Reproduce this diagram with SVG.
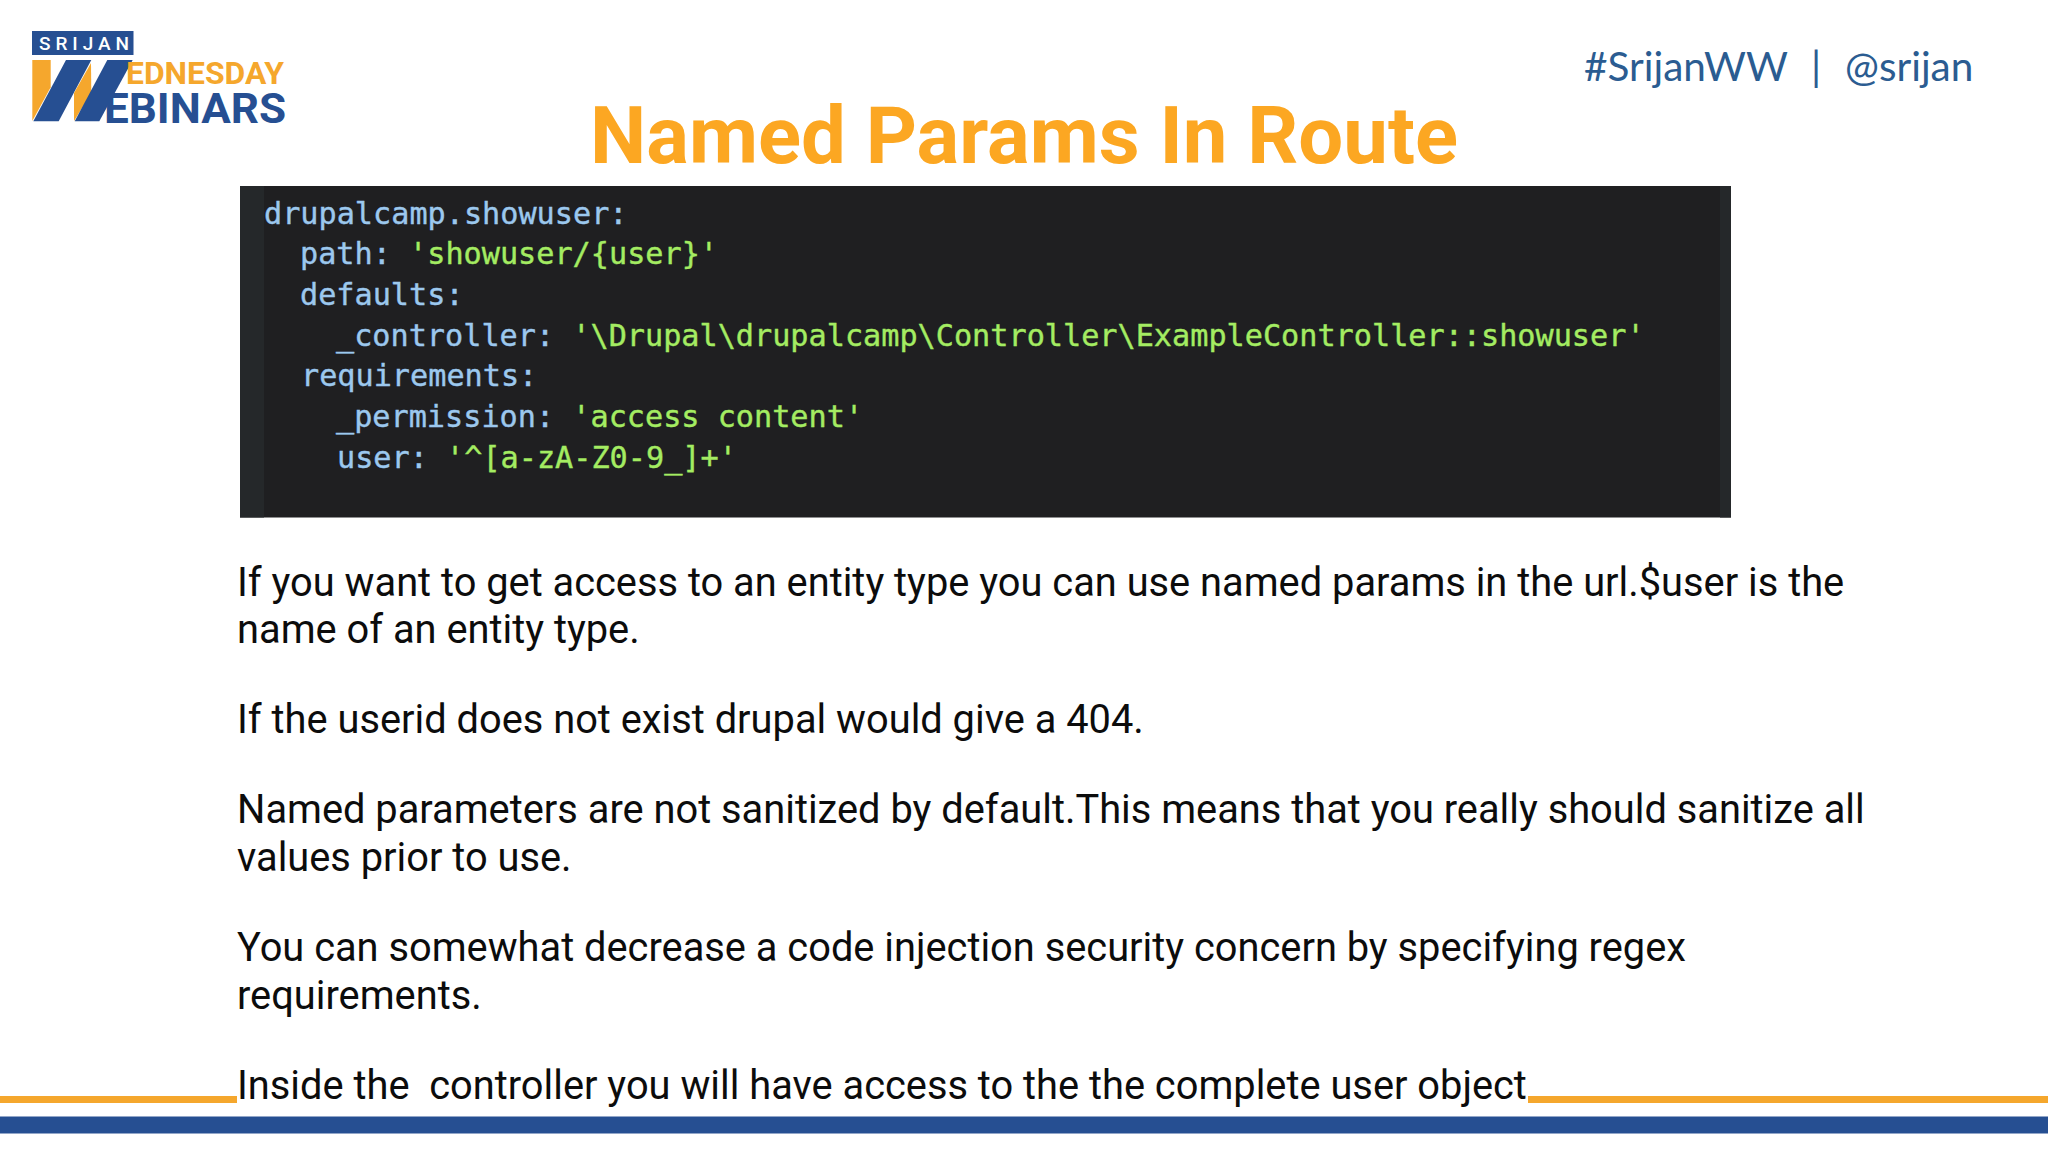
<svg xmlns="http://www.w3.org/2000/svg" width="2048" height="1152" viewBox="0 0 2048 1152">
<style>
.b{font-family:Roboto,"Liberation Sans",sans-serif;font-size:39.8px;fill:#0c0c0c}
.c{font-family:"DejaVu Sans Mono","Liberation Mono",monospace;font-size:30.2px;fill:#9cc8ee;stroke:#9cc8ee;stroke-width:.4px}
.s{fill:#a4ec62;stroke:#a4ec62}
.o{fill:#f5a72d}
.u{fill:#264f92}
</style>
<rect width="2048" height="1152" fill="#fff"/>
<g id="logo">
<rect class="u" x="32" y="31" width="101.500" height="24"/>
<text x="39" y="50" font-family="Roboto,sans-serif" font-weight="500" font-size="19" fill="#fff" textLength="90" lengthAdjust="spacing">SRIJAN</text>
<polygon class="o" points="32.300,60 50.700,60 50.700,87.300 32.300,121"/>
<polygon class="u" points="66,60 91.300,60 58.700,121.300 33.300,121.300"/>
<polygon class="o" points="91,63 91.300,93 74,121 74,93"/>
<polygon class="u" points="107.300,60 132.700,60 99.300,121.300 74.700,121.300"/>
<text class="o" x="126" y="83.500" font-family="Roboto,sans-serif" font-weight="700" font-size="31" textLength="158" lengthAdjust="spacingAndGlyphs">EDNESDAY</text>
<text class="u" x="104" y="122.500" font-family="Roboto,sans-serif" font-weight="700" font-size="42" textLength="182" lengthAdjust="spacingAndGlyphs">EBINARS</text>
</g>
<g id="handle"><text y="81" font-family="Lato,sans-serif" font-size="40.500" fill="#2b5c91"><tspan x="1584">#SrijanWW</tspan><tspan x="1811">|</tspan><tspan x="1845">@srijan</tspan></text></g>
<g id="title"><text x="1024" y="162.500" text-anchor="middle" font-family="Roboto,sans-serif" font-weight="700" font-size="79.700" fill="#fca722">Named Params In Route</text></g>
<g id="code">
<rect x="240" y="186" width="1491" height="331.500" fill="#1f1f21"/>
<rect x="240" y="186" width="24" height="331.500" fill="#25282a"/>
<rect x="1720" y="186" width="11" height="331.500" fill="#25282a"/>
<text class="c" x="264" y="223.500">drupalcamp.showuser:</text>
<text class="c" x="300" y="264">path: <tspan class="s">'showuser/{user}'</tspan></text>
<text class="c" x="300" y="305">defaults:</text>
<text class="c" x="336" y="345.500">_controller: <tspan class="s">'\Drupal\drupalcamp\Controller\ExampleController::showuser'</tspan></text>
<text class="c" x="301" y="386">requirements:</text>
<text class="c" x="336" y="427">_permission: <tspan class="s">'access content'</tspan></text>
<text class="c" x="337" y="468">user: <tspan class="s">'^[a-zA-Z0-9_]+'</tspan></text>
</g>
<g id="body">
<text class="b" x="237" y="595.500">If you want to get access to an entity type you can use named params in the url.$user is the</text>
<text class="b" x="237" y="642.500">name of an entity type.</text>
<text class="b" x="237" y="733">If the userid does not exist drupal would give a 404.</text>
<text class="b" x="237" y="823">Named parameters are not sanitized by default.This means that you really should sanitize all</text>
<text class="b" x="237" y="871">values prior to use.</text>
<text class="b" x="237" y="961">You can somewhat decrease a code injection security concern by specifying regex</text>
<text class="b" x="237" y="1009">requirements.</text>
<text class="b" x="237" y="1099" xml:space="preserve">Inside the  controller you will have access to the the complete user object</text>
</g>
<g id="footer">
<rect class="o" x="0" y="1096" width="237" height="7"/>
<rect class="o" x="1528" y="1096" width="520" height="7"/>
<rect class="u" x="0" y="1116.500" width="2048" height="17"/>
</g>
</svg>
